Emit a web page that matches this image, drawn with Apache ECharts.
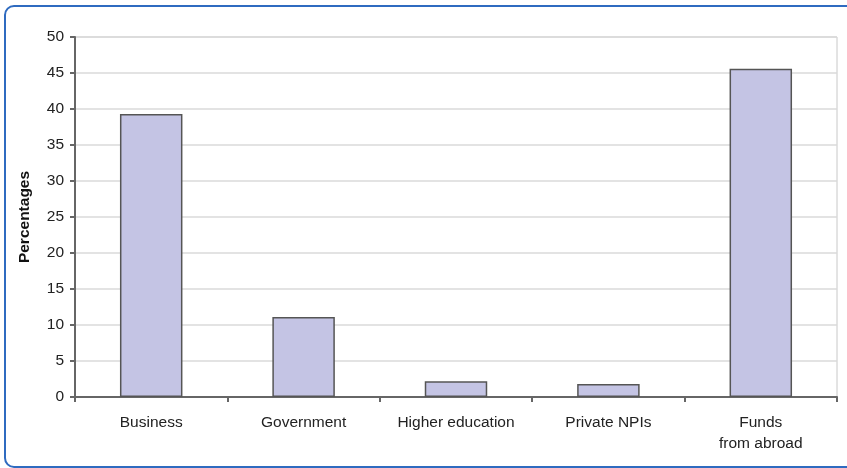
<!DOCTYPE html>
<html>
<head>
<meta charset="utf-8">
<script src="https://cdn.jsdelivr.net/npm/echarts@6/dist/echarts.min.js"></script>
<style>
  html, body { margin: 0; padding: 0; background: #fff; }
  #chart { width: 847px; height: 468px; }
</style>
</head>
<body>
<div id="chart"></div>
<script>
// Sources of funding, share in percent
const categories = ['Business', 'Government', 'Higher education', 'Private NPIs', 'Funds\nfrom abroad'];
const shares = [39.3, 11.1, 2.2, 1.8, 45.6];
const yTicks = { min: 0, max: 50, interval: 5 };

const chart = echarts.init(document.getElementById('chart'), null, { renderer: 'canvas' });
const textFont = 'Liberation Sans, Arial, sans-serif';

chart.setOption({
  animation: false,
  backgroundColor: '#ffffff',
  graphic: [{
    type: 'rect',
    shape: { x: 5, y: 6, width: 850, height: 461, r: 9 },
    style: { fill: 'none', stroke: '#2f6bc0', lineWidth: 2 },
    z: 100
  }],
  grid: {
    left: 75, right: 10, top: 37, bottom: 71,
    show: true, borderColor: '#c8c8c8', borderWidth: 1
  },
  xAxis: {
    type: 'category',
    data: categories,
    axisLine: { lineStyle: { color: '#666', width: 2 } },
    axisTick: { show: true, length: 5, alignWithLabel: false, lineStyle: { color: '#666', width: 2 } },
    axisLabel: { color: '#222', fontFamily: textFont, fontSize: 15.5, margin: 15, lineHeight: 21, interval: 0 },
    splitLine: { show: false }
  },
  yAxis: {
    type: 'value',
    min: yTicks.min, max: yTicks.max, interval: yTicks.interval,
    name: 'Percentages',
    nameLocation: 'middle',
    nameGap: 42,
    nameTextStyle: { color: '#111', fontFamily: textFont, fontSize: 15.5, fontWeight: 'bold' },
    axisLine: { show: true, lineStyle: { color: '#666', width: 2 } },
    axisTick: { show: true, length: 5, lineStyle: { color: '#666', width: 2 } },
    axisLabel: { color: '#222', fontFamily: textFont, fontSize: 15.5, margin: 11 },
    splitLine: { lineStyle: { color: '#dadada', width: 1.5 } }
  },
  series: [{
    type: 'bar',
    data: shares,
    barCategoryGap: '59%',
    itemStyle: { color: '#c4c4e4', borderColor: '#555', borderWidth: 1.5 }
  }]
});
</script>
</body>
</html>
